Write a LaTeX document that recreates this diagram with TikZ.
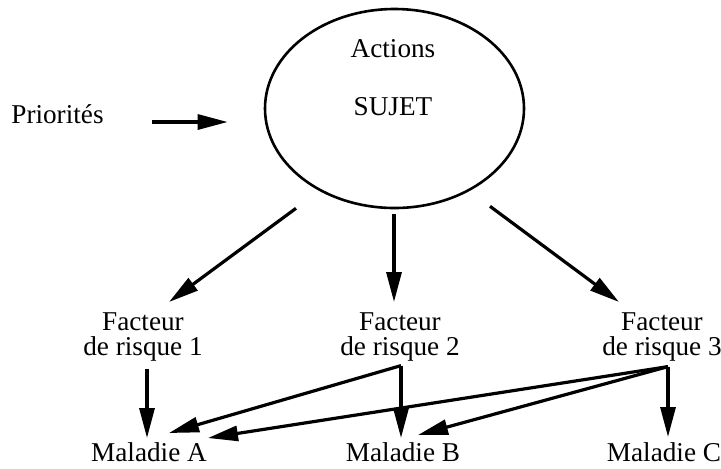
\documentclass[tikz,border=0pt]{standalone}
\usepackage{fontspec}
\setmainfont{Liberation Serif}
\usetikzlibrary{calc,arrows.meta,shapes.geometric}

\begin{document}
\begin{tikzpicture}[x=0.5pt,y=-0.5pt,font=\fontsize{13.6}{12.6}\selectfont,
  txt/.style={inner sep=0pt,align=center},
  arr/.style={line width=1.6pt,-{Triangle[length=15pt,width=7.5pt]}}]
\useasboundingbox (0,0) rectangle (721,468);

\node[draw,ellipse,line width=1.3pt,inner sep=0pt,minimum width=129.5pt,minimum height=99.5pt] (sujet) at (394.5,108.5) {};
\node[txt,anchor=base] (actions) at (393,57) {Actions};
\node[txt,anchor=base] (sujettxt) at (393,115) {SUJET};
\node[txt,anchor=base west] (prio) at (11,123) {Priorités};

\node[txt,anchor=north] (f1) at (143,312) {Facteur\\de risque 1};
\node[txt,anchor=north] (f2) at (400,312) {Facteur\\de risque 2};
\node[txt,anchor=north] (f3) at (662,312) {Facteur\\de risque 3};

\node[txt,anchor=base] (mA) at (149,461) {Maladie A};
\node[txt,anchor=base] (mB) at (403,461) {Maladie B};
\node[txt,anchor=base] (mC) at (664,461) {Maladie C};

\draw[arr] ($(prio.base east)+(48,-1)$) -- ($(sujet.west)+(-36,13.5)$);

% du sujet vers les facteurs
\draw[arr] ($(sujet.south)+(-98.5,-1)$) -- ($(f1.north)+(26,-10)$);
\draw[arr] ($(sujet.south)+(-0.5,5)$) -- ($(f2.north)+(-6,-10)$);
\draw[arr] ($(sujet.south)+(95.5,-3)$) -- ($(f3.north)+(-43,-10)$);

% des facteurs vers les maladies
\draw[arr] ($(f1.south)+(4,7)$) -- ($(mA.base)+(-2,-23)$);
\coordinate (a2) at ($(f2.south)+(1,4)$);
\draw[arr] (a2) -- ($(mB.base)+(-2,-23)$);
\draw[arr] (a2) -- ($(mA.base)+(20,-28)$);
\coordinate (a3) at ($(f3.south)+(6,5)$);
\draw[arr] (a3) -- ($(mC.base)+(4,-24)$);
\draw[arr] (a3) -- ($(mB.base)+(15,-26)$);
\draw[arr] (a3) -- ($(mA.base)+(59,-23)$);

\end{tikzpicture}
\end{document}
